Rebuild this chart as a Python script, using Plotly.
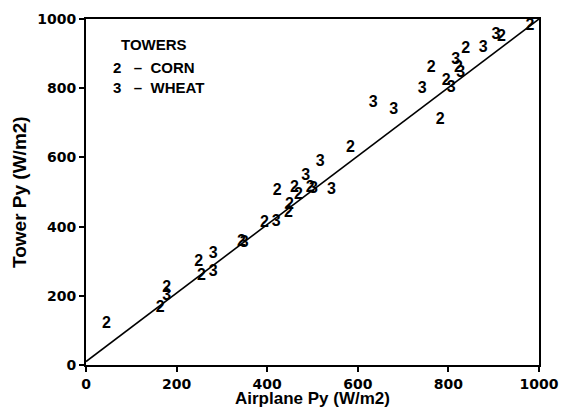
import plotly.graph_objects as go

# Net radiation (Py) measured at the flux towers vs. from the airplane, W/m2
corn_airplane = [45, 164, 178, 249, 255, 343, 394, 447, 449, 422, 460, 469, 495,
                 584, 782, 762, 822, 795, 838, 917, 980]
corn_tower = [118, 165, 222, 297, 256, 355, 409, 438, 462, 504, 511, 491, 512,
              627, 707, 857, 857, 822, 913, 947, 981]

wheat_airplane = [178, 281, 281, 349, 420, 485, 502, 517, 542, 634, 679, 742,
                  816, 827, 806, 877, 905]
wheat_tower = [200, 322, 268, 352, 414, 545, 510, 588, 506, 758, 736, 798,
               881, 843, 802, 915, 953]

# Regression line end points
fit_x = [0, 1000]
fit_y = [10, 1000]

tick_values = [0, 200, 400, 600, 800, 1000]
tick_labels = ["0", "200", "400", "600", "800", "1000"]

legend_title = "TOWERS"
legend_rows = ["2\u00a0\u00a0\u00a0\u2013\u00a0\u00a0CORN",
               "3\u00a0\u00a0\u00a0\u2013\u00a0\u00a0WHEAT"]

TICK_FONT = "DejaVu Sans"
LABEL_FONT = "Liberation Sans"
INK = "black"

fig = go.Figure()

fig.add_trace(go.Scatter(
    x=fit_x, y=fit_y, mode="lines",
    line=dict(color=INK, width=1.6),
    hoverinfo="skip", showlegend=False,
))

digit_font = dict(family=LABEL_FONT, size=16, color=INK, weight="bold")

fig.add_trace(go.Scatter(
    x=corn_airplane, y=corn_tower, mode="text",
    text=["2"] * len(corn_airplane), textposition="middle center",
    textfont=digit_font, showlegend=False, name="CORN",
))

fig.add_trace(go.Scatter(
    x=wheat_airplane, y=wheat_tower, mode="text",
    text=["3"] * len(wheat_airplane), textposition="middle center",
    textfont=digit_font, showlegend=False, name="WHEAT",
))

axis_style = dict(
    range=[0, 1000], automargin=False,
    tickmode="array", tickvals=tick_values, ticktext=tick_labels,
    ticks="outside", ticklen=5, tickwidth=1.5, tickcolor=INK,
    showline=True, linecolor=INK, linewidth=1.8, mirror=True,
    showgrid=False, zeroline=False,
    tickfont=dict(family=TICK_FONT, size=14, color=INK, weight="bold"),
)

fig.update_xaxes(**axis_style)
fig.update_yaxes(**axis_style)

legend_font = dict(family=LABEL_FONT, size=15, color=INK, weight="bold")

annotations = [
    dict(text=legend_title, x=73, y=925, xref="x", yref="y",
         xanchor="left", yanchor="middle", showarrow=False, font=legend_font),
]
for i, row in enumerate(legend_rows):
    annotations.append(dict(
        text=row, x=55, y=861 - 58 * i, xref="x", yref="y",
        xanchor="left", yanchor="middle", showarrow=False, font=legend_font))

annotations.append(dict(
    text="Airplane Py (W/m2)", x=0.5, y=0, xref="paper", yref="paper",
    xanchor="center", yanchor="middle", yshift=-33, showarrow=False,
    font=dict(family=LABEL_FONT, size=17, color=INK, weight="bold")))
annotations.append(dict(
    text="Tower Py (W/m2)", x=0, y=0.5, xref="paper", yref="paper",
    xanchor="center", yanchor="middle", xshift=-67, textangle=-90,
    showarrow=False,
    font=dict(family=LABEL_FONT, size=19, color=INK, weight="bold")))

fig.update_layout(
    width=562, height=408,
    margin=dict(l=86, r=23, t=19, b=43),
    paper_bgcolor="white", plot_bgcolor="white",
    annotations=annotations,
    showlegend=False,
)

fig.write_html("out.html")
